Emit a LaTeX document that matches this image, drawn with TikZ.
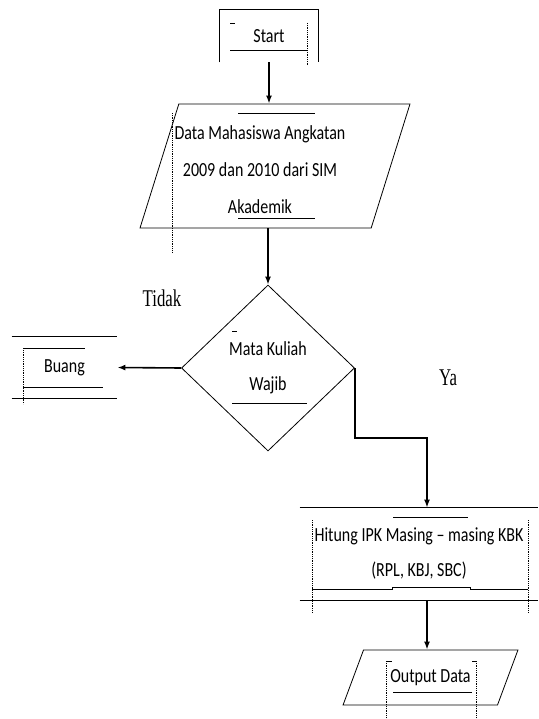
\documentclass[tikz,border=0pt]{standalone}
\usepackage{fontspec}
\newfontfamily\flowfont{Carlito}[FakeStretch=0.8]
\newfontfamily\labelfont{Liberation Serif}[FakeStretch=0.7]
\usetikzlibrary{shapes.geometric,arrows.meta,positioning,calc}
\tikzset{
	flow/.style={line width=0.8pt, font=\flowfont\fontsize{20}{35}\selectfont, align=center, inner sep=0pt},
	proses/.style={flow, rectangle},
	dataio/.style={flow, draw, trapezium, trapezium stretches=true, inner sep=2pt},
	keputusan/.style={flow, draw, diamond},
	teks/.style={font=\labelfont\fontsize{24}{28}\selectfont, inner sep=0pt},
	garis/.style={line width=1.6pt, -{Latex[length=8pt,width=6pt]}},
	tipis/.style={line width=0.8pt},
	bingkai/.style={line width=0.8pt, densely dotted},
}
\begin{document}
\begin{tikzpicture}[x=1pt,y=-1pt]
	\useasboundingbox (0,0) rectangle (538,719);
	% simbol alur
	\node[proses, minimum width=98pt, minimum height=52pt] (start) at (269,36) {Start};
	\node[dataio, trapezium left angle=78.6, trapezium right angle=101.4,
		minimum width=270pt, minimum height=124pt] (data) at (275,166) {};
	\node[flow, font=\flowfont\fontsize{20}{37}\selectfont] (datateks) at (260,170)
		{Data Mahasiswa Angkatan\\2009 dan 2010 dari SIM\\Akademik};
	\node[keputusan, minimum width=173pt, minimum height=166pt] (pilih) at (268,368) {Mata Kuliah\\Wajib};
	\node[proses, minimum width=105pt, minimum height=61pt] (buang) at (64.5,367.5) {Buang};
	\node[proses, minimum width=238pt, minimum height=92pt] (hitung) at (419,554)
		{Hitung IPK Masing – masing KBK\\(RPL, KBJ, SBC)};
	\node[dataio, trapezium left angle=57.5, trapezium right angle=122.5,
		minimum width=175pt, minimum height=55pt] (output) at (430.5,677.5) {Output Data};
	% garis kotak yang terbuka
	\draw[tipis] (start.south west) -- (start.north west) -- (start.north east) -- (start.south east);
	\draw[tipis] (buang.north west) -- (buang.north east) (buang.south west) -- (buang.south east);
	\draw[tipis] (hitung.north west) -- (hitung.north east) (hitung.south west) -- (hitung.south east);
	% sisa bingkai teks
	\draw[tipis] (230,50) -- (308,50) (230,23) -- (235,23);
	\draw[bingkai] (307,23) -- (307,66);
	\draw[tipis] (238,113) -- (315,113) (238,218) -- (315,218);
	\draw[bingkai] (172,113) -- (172,252);
	\draw[tipis] (23,348) -- (85,348) (23,387) -- (103,387);
	\draw[bingkai] (23,350) -- (23,404);
	\draw[tipis] (232,331) -- (237,331) (232,403) -- (307,403);
	\draw[tipis] (393,517) -- (468,517)
		(312,589) -- (392,589) -- (392,587) -- (470,587) -- (470,589) -- (528,589);
	\draw[bingkai] (312,520) -- (312,613) (528,520) -- (528,613);
	\draw[tipis] (387,661) -- (392,661) (472,661) -- (477,661) (393,692) -- (472,692);
	\draw[bingkai] (386,661) -- (386,719) (476,661) -- (476,719);
	% label
	\node[teks] (tidak) at (162,298) {Tidak};
	\node[teks] (ya) at (448,378) {Ya};
	% alur
	\coordinate (belok) at (427,438);
	\draw[garis] (start.south) -- (start.south |- data.north);
	\draw[garis] (data.south -| pilih.north) -- (pilih.north);
	\draw[garis] (pilih.west) -- (buang.east);
	\draw[garis] (pilih.east) -- (pilih.east |- belok) -- (belok) -- (belok |- hitung.north);
	\draw[garis] (hitung.south -| belok) -- (output.north -| belok);
\end{tikzpicture}
\end{document}
